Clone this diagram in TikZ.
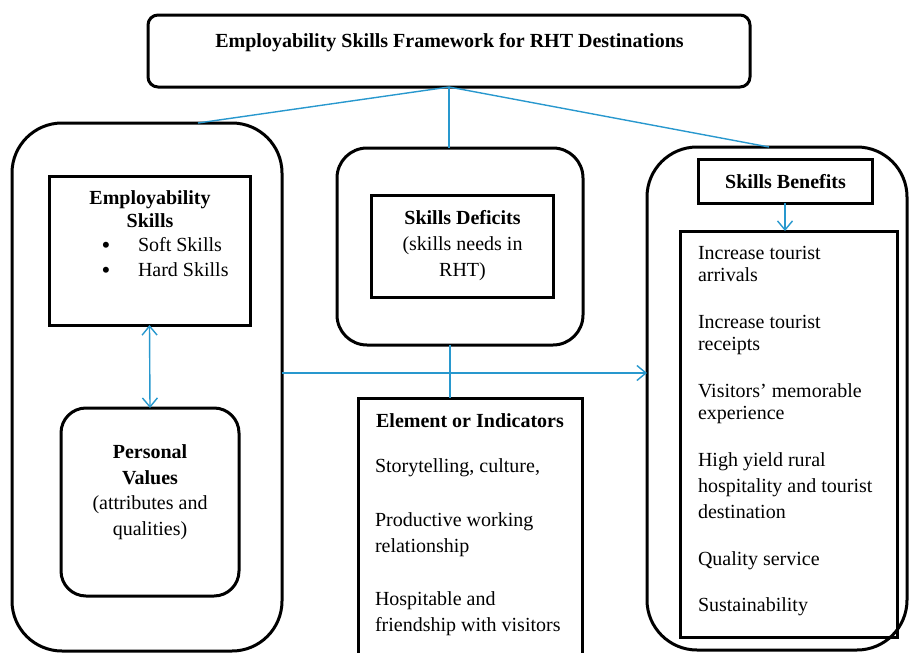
\documentclass[tikz,border=0pt]{standalone}
\usepackage{fontspec}
\setmainfont{Liberation Serif}
\usetikzlibrary{arrows.meta}
\definecolor{linkblue}{RGB}{40,152,206}
\begin{document}
\begin{tikzpicture}[x=1pt,y=-1pt,
  >={Straight Barb[length=9pt,width=15pt]},
  every node/.style={inner sep=0pt, outer sep=0pt},
  box/.style={draw=black, line width=3pt},
  link/.style={draw=linkblue, line width=1.4pt},
  txt/.style={font=\fontsize{20}{26}\selectfont},
  tight/.style={font=\fontsize{20}{22.5}\selectfont},
  bul/.style={font=\fontsize{25}{26}\selectfont},
  hd/.style={font=\bfseries\fontsize{20}{26}\selectfont}]
\clip (0,0) rectangle (910,653);

% title box
\node[box, rounded corners=10pt, minimum width=602pt, minimum height=72pt] (title) at (449,51) {};
\node[hd, anchor=base] (titletext) at (449.5,47) {Employability Skills Framework for RHT Destinations};

% left column
\node[box, rounded corners=50pt, minimum width=270pt, minimum height=528pt] (lbox) at (147,387) {};
\node[box, minimum width=201pt, minimum height=149pt] (emp) at (149.5,250.5) {};
\node[hd, anchor=base] (emptitle) at (150,204) {Employability};
\node[hd, anchor=base] (emptitleb) at (150,227) {Skills};
\node[bul, anchor=base] (bula) at (106,253) {\textbullet};
\node[txt, anchor=base west] (soft) at (138,251) {Soft Skills};
\node[bul, anchor=base] (bulb) at (106,278) {\textbullet};
\node[txt, anchor=base west] (hard) at (138,276) {Hard Skills};

\node[box, rounded corners=25pt, minimum width=178pt, minimum height=188pt] (pv) at (150,502) {};
\node[hd, anchor=base] (pvtitle) at (150,458) {Personal};
\node[hd, anchor=base] (pvtitleb) at (150,484) {Values};
\node[txt, anchor=base] (pvtext) at (150,509) {(attributes and};
\node[txt, anchor=base] (pvtextb) at (150,535) {qualities)};

% centre column
\node[box, rounded corners=30pt, minimum width=246pt, minimum height=197pt] (cbox) at (460,246.5) {};
\node[box, minimum width=182pt, minimum height=102pt] (def) at (462,246) {};
\node[hd, anchor=base] (deftitle) at (462.5,224) {Skills Deficits};
\node[txt, anchor=base] (deftext) at (462.5,250) {(skills needs in};
\node[txt, anchor=base] (deftextb) at (462.5,276) {RHT)};

\node[box, minimum width=224pt, minimum height=282pt] (elem) at (470,539) {};
\node[hd, anchor=base] (elemtitle) at (470,427) {Element or Indicators};
% multi-line nodes: the base anchor sits on the last line
\node[txt, anchor=base west, align=left] (ea) at (375,472) {Storytelling, culture,};
\node[txt, anchor=base west, align=left] (eb) at (375,552) {Productive working\\relationship};
\node[txt, anchor=base west, align=left] (ec) at (375,631) {Hospitable and\\friendship with visitors};

% right column
\node[box, rounded corners=50pt, minimum width=260pt, minimum height=503pt] (rbox) at (777,398.5) {};
\node[box, minimum width=174pt, minimum height=44pt] (bhead) at (785,181) {};
\node[hd, anchor=base] (bheadtext) at (785.5,188) {Skills Benefits};
\node[box, minimum width=217pt, minimum height=406pt] (blist) at (788.5,434) {};
\node[tight, anchor=base west, align=left] (ba) at (698,281.5) {Increase tourist\\arrivals};
\node[tight, anchor=base west, align=left] (bb) at (698,350.5) {Increase tourist\\receipts};
\node[tight, anchor=base west, align=left] (bc) at (698,419.5) {Visitors’ memorable\\experience};
\node[txt, anchor=base west, align=left] (bd) at (698,518) {High yield rural\\hospitality and tourist\\destination};
\node[txt, anchor=base west, align=left] (be) at (698,565) {Quality service};
\node[txt, anchor=base west, align=left] (bf) at (698,611) {Sustainability};

% connectors
\draw[link] (title.south) -- ([xshift=51pt]lbox.north);
\draw[link] (title.south) -- (title.south |- cbox.north);
\draw[link] (title.south) -- ([xshift=-8pt]rbox.north);
\draw[link, <->] (emp.south) -- (pv.north);
\draw[link] ([xshift=-10pt]cbox.south) -- ([xshift=-10pt]cbox.south |- elem.north);
\draw[link, ->] ([yshift=14pt]lbox.east) -- ([yshift=14pt]lbox.east -| rbox.west);
\draw[link, ->] (bhead.south) -- (bhead.south |- blist.north);
\end{tikzpicture}
\end{document}
